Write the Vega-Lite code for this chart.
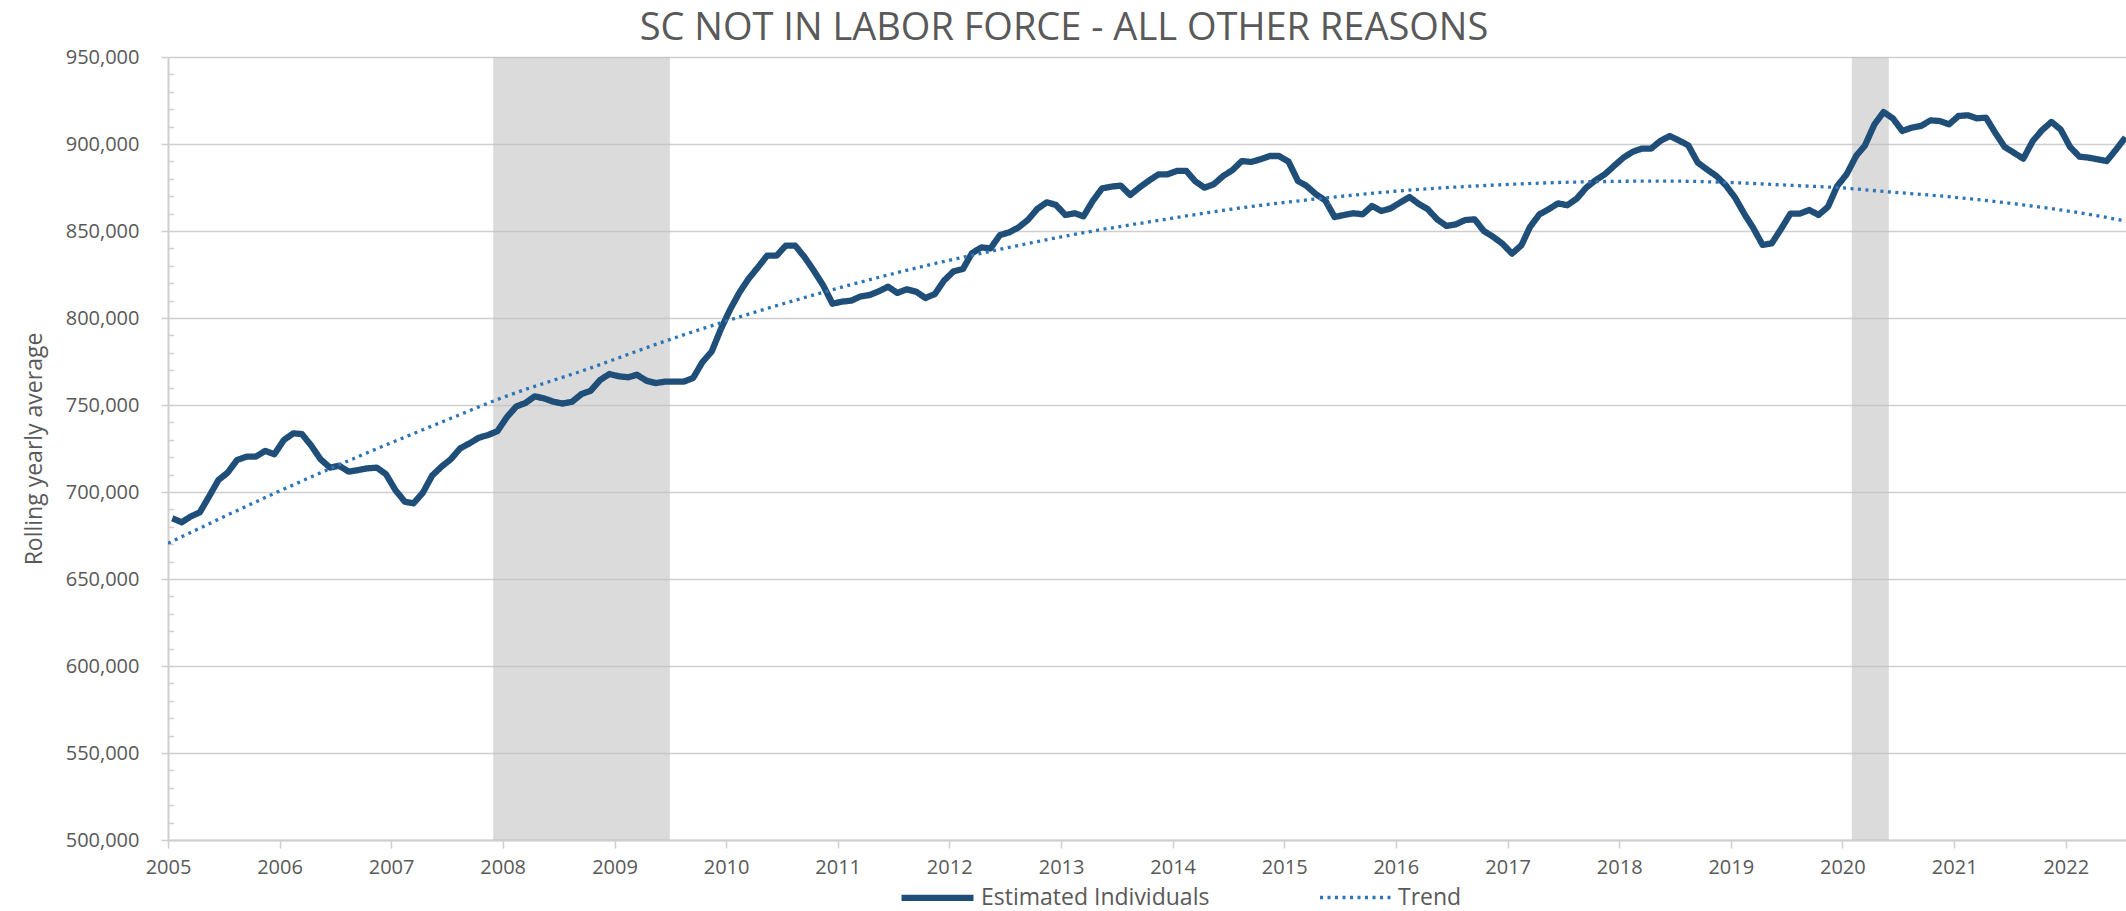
{
  "$schema": "https://vega.github.io/schema/vega-lite/v6.json",
  "width": 1958,
  "height": 783,
  "autosize": {"type": "none"},
  "padding": {"left": 168, "top": 57, "right": 0, "bottom": 71},
  "background": "white",
  "title": {
    "text": "SC NOT IN LABOR FORCE - ALL OTHER REASONS",
    "font": "Open Sans", "fontSize": 38, "fontWeight": "normal", "color": "#595959",
    "anchor": "middle", "frame": "group", "dx": -83, "offset": -31, "baseline": "alphabetic"
  },
  "config": {
    "view": {"stroke": null},
    "font": "Open Sans",
    "legend": {
      "orient": "none", "legendX": 730, "legendY": 801, "direction": "horizontal",
      "title": null, "labelFont": "Open Sans", "labelFontSize": 23, "labelColor": "#595959", "labelLimit": 0,
      "symbolType": "stroke", "symbolSize": 5184, "labelOffset": 4, "columnPadding": 103, "padding": 0
    }
  },
  "datasets": {
    "recessions": [
      {"start": "2007-12-01", "end": "2009-07-01"},
      {"start": "2020-02-01", "end": "2020-06-01"}
    ],
    "estimates": [
      {"date": "2005-01-15", "value": 684900}, {"date": "2005-02-15", "value": 682600}, {"date": "2005-03-15", "value": 685800},
      {"date": "2005-04-15", "value": 688300}, {"date": "2005-05-15", "value": 697300}, {"date": "2005-06-15", "value": 706900},
      {"date": "2005-07-15", "value": 711100}, {"date": "2005-08-15", "value": 718400}, {"date": "2005-09-15", "value": 720300},
      {"date": "2005-10-15", "value": 720300}, {"date": "2005-11-15", "value": 723600}, {"date": "2005-12-15", "value": 721700},
      {"date": "2006-01-15", "value": 729900}, {"date": "2006-02-15", "value": 733700}, {"date": "2006-03-15", "value": 733300},
      {"date": "2006-04-15", "value": 726600}, {"date": "2006-05-15", "value": 718800}, {"date": "2006-06-15", "value": 714000},
      {"date": "2006-07-15", "value": 715100}, {"date": "2006-08-15", "value": 711700}, {"date": "2006-09-15", "value": 712600},
      {"date": "2006-10-15", "value": 713600}, {"date": "2006-11-15", "value": 714000}, {"date": "2006-12-15", "value": 710300},
      {"date": "2007-01-15", "value": 701100}, {"date": "2007-02-15", "value": 694400}, {"date": "2007-03-15", "value": 693500},
      {"date": "2007-04-15", "value": 699600}, {"date": "2007-05-15", "value": 709400}, {"date": "2007-06-15", "value": 714600},
      {"date": "2007-07-15", "value": 718800}, {"date": "2007-08-15", "value": 725100}, {"date": "2007-09-15", "value": 728000},
      {"date": "2007-10-15", "value": 731200}, {"date": "2007-11-15", "value": 732800}, {"date": "2007-12-15", "value": 735000},
      {"date": "2008-01-15", "value": 743100}, {"date": "2008-02-15", "value": 749200}, {"date": "2008-03-15", "value": 751100},
      {"date": "2008-04-15", "value": 755000}, {"date": "2008-05-15", "value": 753800}, {"date": "2008-06-15", "value": 751900},
      {"date": "2008-07-15", "value": 750800}, {"date": "2008-08-15", "value": 751900}, {"date": "2008-09-15", "value": 756300},
      {"date": "2008-10-15", "value": 758200}, {"date": "2008-11-15", "value": 764400}, {"date": "2008-12-15", "value": 767800},
      {"date": "2009-01-15", "value": 766500}, {"date": "2009-02-15", "value": 765900}, {"date": "2009-03-15", "value": 767400},
      {"date": "2009-04-15", "value": 764000}, {"date": "2009-05-15", "value": 762600}, {"date": "2009-06-15", "value": 763400},
      {"date": "2009-07-15", "value": 763400}, {"date": "2009-08-15", "value": 763400}, {"date": "2009-09-15", "value": 765500},
      {"date": "2009-10-15", "value": 774500}, {"date": "2009-11-15", "value": 780800}, {"date": "2009-12-15", "value": 793700},
      {"date": "2010-01-15", "value": 805200}, {"date": "2010-02-15", "value": 815100}, {"date": "2010-03-15", "value": 822400},
      {"date": "2010-04-15", "value": 829100}, {"date": "2010-05-15", "value": 835800}, {"date": "2010-06-15", "value": 835800},
      {"date": "2010-07-15", "value": 841600}, {"date": "2010-08-15", "value": 841600}, {"date": "2010-09-15", "value": 834900},
      {"date": "2010-10-15", "value": 827200}, {"date": "2010-11-15", "value": 818600}, {"date": "2010-12-15", "value": 808200},
      {"date": "2011-01-15", "value": 809400}, {"date": "2011-02-15", "value": 810000}, {"date": "2011-03-15", "value": 812300},
      {"date": "2011-04-15", "value": 813200}, {"date": "2011-05-15", "value": 815300}, {"date": "2011-06-15", "value": 818000},
      {"date": "2011-07-15", "value": 814400}, {"date": "2011-08-15", "value": 816500}, {"date": "2011-09-15", "value": 815100},
      {"date": "2011-10-15", "value": 811500}, {"date": "2011-11-15", "value": 813800}, {"date": "2011-12-15", "value": 821500},
      {"date": "2012-01-15", "value": 826800}, {"date": "2012-02-15", "value": 828200}, {"date": "2012-03-15", "value": 837200},
      {"date": "2012-04-15", "value": 840600}, {"date": "2012-05-15", "value": 840000}, {"date": "2012-06-15", "value": 847700},
      {"date": "2012-07-15", "value": 849200}, {"date": "2012-08-15", "value": 852100}, {"date": "2012-09-15", "value": 856500},
      {"date": "2012-10-15", "value": 862700}, {"date": "2012-11-15", "value": 866500}, {"date": "2012-12-15", "value": 865000},
      {"date": "2013-01-15", "value": 859200}, {"date": "2013-02-15", "value": 860200}, {"date": "2013-03-15", "value": 858400},
      {"date": "2013-04-15", "value": 867400}, {"date": "2013-05-15", "value": 874500}, {"date": "2013-06-15", "value": 875500},
      {"date": "2013-07-15", "value": 876100}, {"date": "2013-08-15", "value": 870700}, {"date": "2013-09-15", "value": 875100},
      {"date": "2013-10-15", "value": 878900}, {"date": "2013-11-15", "value": 882500}, {"date": "2013-12-15", "value": 882600},
      {"date": "2014-01-15", "value": 884500}, {"date": "2014-02-15", "value": 884500}, {"date": "2014-03-15", "value": 878700},
      {"date": "2014-04-15", "value": 874900}, {"date": "2014-05-15", "value": 876800}, {"date": "2014-06-15", "value": 881600},
      {"date": "2014-07-15", "value": 884900}, {"date": "2014-08-15", "value": 890200}, {"date": "2014-09-15", "value": 889700},
      {"date": "2014-10-15", "value": 891200}, {"date": "2014-11-15", "value": 893100}, {"date": "2014-12-15", "value": 893100},
      {"date": "2015-01-15", "value": 889900}, {"date": "2015-02-15", "value": 878700}, {"date": "2015-03-15", "value": 875900},
      {"date": "2015-04-15", "value": 871100}, {"date": "2015-05-15", "value": 867600}, {"date": "2015-06-15", "value": 858000},
      {"date": "2015-07-15", "value": 859200}, {"date": "2015-08-15", "value": 860200}, {"date": "2015-09-15", "value": 859600},
      {"date": "2015-10-15", "value": 864400}, {"date": "2015-11-15", "value": 861500}, {"date": "2015-12-15", "value": 863000},
      {"date": "2016-01-15", "value": 866300}, {"date": "2016-02-15", "value": 869500}, {"date": "2016-03-15", "value": 865700},
      {"date": "2016-04-15", "value": 862500}, {"date": "2016-05-15", "value": 856700}, {"date": "2016-06-15", "value": 852900},
      {"date": "2016-07-15", "value": 853800}, {"date": "2016-08-15", "value": 856300}, {"date": "2016-09-15", "value": 856700},
      {"date": "2016-10-15", "value": 850000}, {"date": "2016-11-15", "value": 846600}, {"date": "2016-12-15", "value": 842700},
      {"date": "2017-01-15", "value": 837000}, {"date": "2017-02-15", "value": 841800}, {"date": "2017-03-15", "value": 852300},
      {"date": "2017-04-15", "value": 859600}, {"date": "2017-05-15", "value": 862500}, {"date": "2017-06-15", "value": 865900},
      {"date": "2017-07-15", "value": 864800}, {"date": "2017-08-15", "value": 868600}, {"date": "2017-09-15", "value": 874900},
      {"date": "2017-10-15", "value": 879100}, {"date": "2017-11-15", "value": 882600}, {"date": "2017-12-15", "value": 887400},
      {"date": "2018-01-15", "value": 892200}, {"date": "2018-02-15", "value": 895600}, {"date": "2018-03-15", "value": 897300},
      {"date": "2018-04-15", "value": 897300}, {"date": "2018-05-15", "value": 901700}, {"date": "2018-06-15", "value": 904600},
      {"date": "2018-07-15", "value": 902100}, {"date": "2018-08-15", "value": 899200}, {"date": "2018-09-15", "value": 889300},
      {"date": "2018-10-15", "value": 885400}, {"date": "2018-11-15", "value": 881600}, {"date": "2018-12-15", "value": 876400},
      {"date": "2019-01-15", "value": 869200}, {"date": "2019-02-15", "value": 859600}, {"date": "2019-03-15", "value": 851900},
      {"date": "2019-04-15", "value": 842000}, {"date": "2019-05-15", "value": 842900}, {"date": "2019-06-15", "value": 851300},
      {"date": "2019-07-15", "value": 860000}, {"date": "2019-08-15", "value": 860000}, {"date": "2019-09-15", "value": 862100},
      {"date": "2019-10-15", "value": 859200}, {"date": "2019-11-15", "value": 863900}, {"date": "2019-12-15", "value": 875800},
      {"date": "2020-01-15", "value": 882600}, {"date": "2020-02-15", "value": 893100}, {"date": "2020-03-15", "value": 899200},
      {"date": "2020-04-15", "value": 911300}, {"date": "2020-05-15", "value": 918400}, {"date": "2020-06-15", "value": 914600},
      {"date": "2020-07-15", "value": 907500}, {"date": "2020-08-15", "value": 909400}, {"date": "2020-09-15", "value": 910400},
      {"date": "2020-10-15", "value": 913600}, {"date": "2020-11-15", "value": 913200}, {"date": "2020-12-15", "value": 911300},
      {"date": "2021-01-15", "value": 916100}, {"date": "2021-02-15", "value": 916500}, {"date": "2021-03-15", "value": 914800},
      {"date": "2021-04-15", "value": 915100}, {"date": "2021-05-15", "value": 906500}, {"date": "2021-06-15", "value": 898300},
      {"date": "2021-07-15", "value": 895000}, {"date": "2021-08-15", "value": 891600}, {"date": "2021-09-15", "value": 901700},
      {"date": "2021-10-15", "value": 907900}, {"date": "2021-11-15", "value": 912700}, {"date": "2021-12-15", "value": 908400},
      {"date": "2022-01-15", "value": 898300}, {"date": "2022-02-15", "value": 892700}, {"date": "2022-03-15", "value": 892200},
      {"date": "2022-04-15", "value": 891200}, {"date": "2022-05-15", "value": 890200}, {"date": "2022-06-15", "value": 896900},
      {"date": "2022-07-15", "value": 903800}
    ],
    "trend": [
      {"date": "2005-01-01", "value": 670500}, {"date": "2005-12-20", "value": 699600}, {"date": "2006-09-20", "value": 720700},
      {"date": "2007-06-20", "value": 740500}, {"date": "2008-01-01", "value": 754300}, {"date": "2008-10-10", "value": 771000},
      {"date": "2009-06-25", "value": 787300}, {"date": "2009-12-25", "value": 797800}, {"date": "2010-11-25", "value": 815300},
      {"date": "2011-10-10", "value": 829800}, {"date": "2012-05-25", "value": 838700}, {"date": "2013-03-15", "value": 849000},
      {"date": "2013-12-01", "value": 856500}, {"date": "2014-07-10", "value": 862500}, {"date": "2015-04-25", "value": 868600},
      {"date": "2016-02-15", "value": 873500}, {"date": "2016-12-01", "value": 876500}, {"date": "2017-09-25", "value": 878300},
      {"date": "2018-06-05", "value": 878700}, {"date": "2018-12-10", "value": 878000}, {"date": "2019-07-10", "value": 876300},
      {"date": "2019-12-20", "value": 874900}, {"date": "2020-05-25", "value": 872600}, {"date": "2021-01-01", "value": 869400},
      {"date": "2021-08-05", "value": 865200}, {"date": "2022-03-10", "value": 859800}, {"date": "2022-07-17", "value": 855700}
    ]
  },
  "layer": [
    {
      "data": {"name": "recessions"},
      "mark": {"type": "rect", "fill": "#BFBFBF", "opacity": 0.57},
      "encoding": {
        "x": {
          "field": "start", "type": "temporal",
          "scale": {"type": "utc", "domain": [{"year": 2005, "month": 1, "date": 1, "utc": true}, {"year": 2022, "month": 7, "date": 17, "utc": true}]},
          "axis": {
            "format": "%Y", "tickCount": {"interval": "year", "step": 1}, "grid": false,
            "domainColor": "#CFCFCF", "domainWidth": 2, "tickColor": "#CFCFCF", "tickSize": 8, "tickWidth": 1.5,
            "labelFont": "Open Sans", "labelFontSize": 20, "labelColor": "#595959", "labelPadding": 9,
            "labelFlush": false, "labelOverlap": false, "title": null
          }
        },
        "x2": {"field": "end"}
      }
    },
    {
      "data": {"name": "estimates"},
      "mark": {"type": "line", "strokeJoin": "round", "strokeCap": "butt", "clip": true},
      "encoding": {
        "x": {"field": "date", "type": "temporal"},
        "y": {
          "field": "value", "type": "quantitative",
          "scale": {"domain": [500000, 950000], "nice": false, "zero": false},
          "axis": {
            "values": [500000, 550000, 600000, 650000, 700000, 750000, 800000, 850000, 900000, 950000],
            "format": ",.0f", "grid": true, "gridColor": "#CFCFCF", "gridWidth": 1.5,
            "domain": true, "domainColor": "#CFCFCF", "domainWidth": 2,
            "tickSize": 7, "tickColor": "#CFCFCF", "tickWidth": 1.5,
            "labelFont": "Open Sans", "labelFontSize": 20, "labelColor": "#595959", "labelPadding": 22,
            "title": "Rolling yearly average", "titleFont": "Open Sans", "titleFontSize": 23,
            "titleFontWeight": "normal", "titleColor": "#595959", "titleX": -127, "titleY": 391.5,
            "titleAngle": -90, "titleBaseline": "alphabetic", "titleAlign": "center"
          }
        },
        "color": {
          "datum": "Estimated Individuals", "type": "nominal",
          "scale": {"domain": ["Estimated Individuals", "Trend"], "range": ["#1F4E79", "#2E75B6"]}
        },
        "strokeDash": {
          "datum": "Estimated Individuals", "type": "nominal",
          "scale": {"domain": ["Estimated Individuals", "Trend"], "range": [[1, 0], [3, 4.5]]}
        },
        "strokeWidth": {
          "datum": "Estimated Individuals", "type": "nominal",
          "scale": {"type": "point", "padding": 0, "domain": ["Estimated Individuals", "Trend"], "range": [6.3, 3.3]}
        }
      }
    },
    {
      "data": {"name": "trend"},
      "mark": {"type": "line", "interpolate": "monotone", "strokeCap": "butt", "clip": true},
      "encoding": {
        "x": {"field": "date", "type": "temporal"},
        "y": {
          "field": "value", "type": "quantitative",
          "scale": {"domain": [500000, 950000], "nice": false, "zero": false},
          "axis": {
            "orient": "left",
            "values": [510000, 520000, 530000, 540000, 560000, 570000, 580000, 590000, 610000, 620000, 630000, 640000, 660000, 670000, 680000, 690000, 710000, 720000, 730000, 740000, 760000, 770000, 780000, 790000, 810000, 820000, 830000, 840000, 860000, 870000, 880000, 890000, 910000, 920000, 930000, 940000],
            "labels": false, "grid": false, "domain": false, "title": null,
            "tickSize": -5.5, "tickColor": "#CFCFCF", "tickWidth": 1.5
          }
        },
        "color": {"datum": "Trend", "type": "nominal"},
        "strokeDash": {"datum": "Trend", "type": "nominal"},
        "strokeWidth": {"datum": "Trend", "type": "nominal"}
      }
    }
  ],
  "resolve": {"axis": {"y": "independent"}}
}
